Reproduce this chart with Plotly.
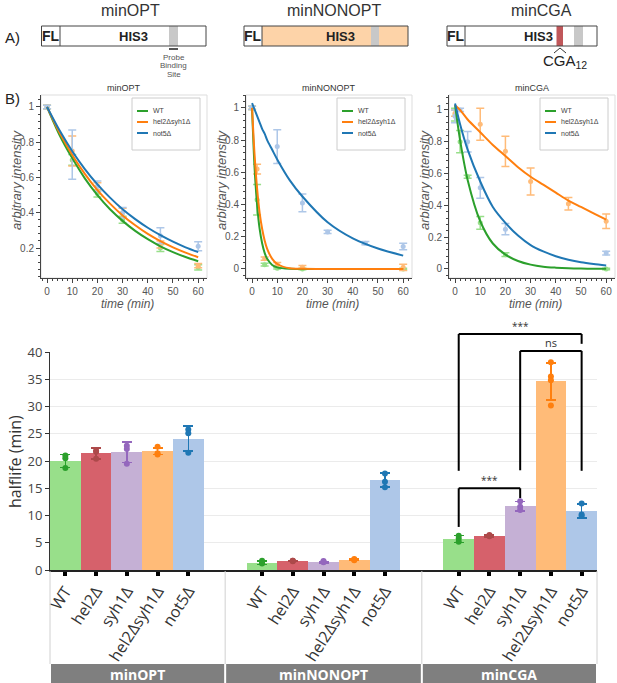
import plotly.graph_objects as go

W, H = 617, 683

# ---- panel B: decay time courses (arbitrary intensity) ----------------------
line_strains = ['WT', 'hel2\u0394syh1\u0394', 'not5\u0394']

# minOPT
opt_t = [0, 10, 20, 30, 45, 60]
opt_wt = [1.0, 0.70, 0.51, 0.36, 0.20, 0.09]
opt_wt_err = [0.01, 0.03, 0.02, 0.02, 0.02, 0.015]
opt_hs = [1.0, 0.75, 0.55, 0.40, 0.22, 0.10]
opt_hs_err = [0.01, 0.085, 0.02, 0.025, 0.02, 0.012]
opt_n5 = [1.0, 0.73, 0.55, 0.40, 0.27, 0.21]
opt_n5_err = [0.01, 0.14, 0.03, 0.03, 0.045, 0.025]
opt_fit_t = [0, 5, 10, 15, 20, 25, 30, 35, 40, 45, 50, 55, 60]
opt_fit_wt = [1.0, 0.84, 0.71, 0.595, 0.50, 0.42, 0.354, 0.297, 0.25, 0.21, 0.177, 0.149, 0.125]
opt_fit_hs = [1.0, 0.853, 0.728, 0.621, 0.529, 0.452, 0.385, 0.329, 0.28, 0.239, 0.204, 0.174, 0.148]
opt_fit_n5 = [1.0, 0.866, 0.749, 0.648, 0.561, 0.486, 0.42, 0.364, 0.315, 0.273, 0.236, 0.204, 0.177]

# minNONOPT
non_t = [0, 2, 5, 10, 20, 60]
non_wt = [1.0, 0.43, 0.027, 0.005, 0.0, 0.0]
non_wt_err = [0.01, 0.095, 0.008, 0.005, 0.005, 0.005]
non_hs = [1.0, 0.62, 0.064, 0.03, 0.01, 0.01]
non_hs_err = [0.01, 0.03, 0.01, 0.01, 0.012, 0.02]
non_n5_t = [0, 10, 20, 30, 45, 60]
non_n5 = [1.0, 0.76, 0.41, 0.23, 0.16, 0.14]
non_n5_err = [0.01, 0.105, 0.055, 0.01, 0.01, 0.02]
non_fit_t = [0, 1, 2, 3, 4, 5, 6, 8, 10, 15, 20, 30, 40, 50, 60]
non_fit_wt = [1.0, 0.63, 0.40, 0.25, 0.16, 0.10, 0.063, 0.025, 0.01, 0.001, 0, 0, 0, 0, 0]
non_fit_hs = [1.0, 0.71, 0.50, 0.35, 0.25, 0.177, 0.125, 0.063, 0.031, 0.004, 0.001, 0, 0, 0, 0]
non_fit_n5 = [1.03, 0.99, 0.95, 0.91, 0.87, 0.84, 0.80, 0.74, 0.68, 0.55, 0.45, 0.29, 0.19, 0.127, 0.083]

# minCGA
cga_t = [0, 2, 5, 10, 20, 60]
cga_wt = [0.97, 0.80, 0.58, 0.29, 0.09, 0.0]
cga_wt_err = [0.04, 0.07, 0.01, 0.04, 0.012, 0.005]
cga_hs_t = [0, 10, 20, 30, 45, 60]
cga_hs = [0.98, 0.91, 0.74, 0.55, 0.41, 0.30]
cga_hs_err = [0.02, 0.10, 0.095, 0.085, 0.04, 0.045]
cga_n5 = [0.96, 1.0, 0.80, 0.51, 0.25, 0.10]
cga_n5_err = [0.04, 0.01, 0.065, 0.065, 0.035, 0.012]
cga_fit_t = [0, 2, 5, 10, 15, 20, 25, 30, 35, 40, 45, 50, 55, 60]
cga_fit_wt = [1.03, 0.81, 0.56, 0.30, 0.16, 0.09, 0.05, 0.027, 0.014, 0.008, 0.004, 0.002, 0.001, 0.001]
cga_fit_hs = [1.03, 1.0, 0.94, 0.86, 0.78, 0.71, 0.64, 0.58, 0.53, 0.48, 0.43, 0.39, 0.35, 0.31]
cga_fit_n5 = [1.04, 0.91, 0.75, 0.55, 0.39, 0.29, 0.21, 0.15, 0.11, 0.08, 0.058, 0.042, 0.031, 0.022]

# ---- panel B: halflife bar chart --------------------------------------------
constructs = ['minOPT', 'minNONOPT', 'minCGA']
bar_strains = ['WT', 'hel2\u0394', 'syh1\u0394', 'hel2\u0394syh1\u0394', 'not5\u0394']
opt_mean = [20.0, 21.4, 21.6, 21.8, 24.1]
opt_sd = [1.2, 1.0, 1.85, 0.6, 2.3]
opt_reps = [[21.0, 20.5, 18.7], [21.9, 21.7, 20.4], [22.8, 22.2, 19.5],
            [22.6, 21.2, 21.4], [25.8, 25.1, 21.5]]
non_mean = [1.35, 1.65, 1.45, 1.9, 16.5]
non_sd = [0.3, 0.12, 0.15, 0.15, 1.3]
non_reps = [[1.7, 1.2, 1.3], [1.7, 1.6, 1.7], [1.65, 1.5, 1.4],
            [2.0, 1.8, 1.9], [17.7, 16.2, 15.2]]
cga_mean = [5.7, 6.25, 11.7, 34.6, 10.8]
cga_sd = [0.65, 0.15, 0.9, 3.4, 1.3]
cga_reps = [[6.3, 5.8, 5.2], [6.4, 6.3, 6.2], [12.6, 11.6, 11.0],
            [38.1, 35.5, 34.8, 30.2], [12.2, 10.2, 9.9]]
# significance brackets on minCGA: (from strain, to strain, label)
sig_pairs = [(0, 4, '***'), (2, 4, 'ns'), (0, 2, '***')]

# ---- style -------------------------------------------------------------------
line_dark = ['#2ca02c', '#ff7f0e', '#1f77b4']
line_light = ['#98df8a', '#ffbb78', '#aec7e8']
bar_light = ['#98df8a', '#d6616b', '#c5b0d5', '#ffbb78', '#aec7e8']
bar_dark = ['#2ca02c', '#ad494a', '#9467bd', '#ff7f0e', '#1f77b4']
GS = 6.4  # spacing between construct groups on the bar axis
SANS = 'Liberation Sans, Arial, sans-serif'
OPEN = 'Open Sans, sans-serif'


def px_x(px):
    return px / W


def px_y(py):
    return 1 - py / H


fig = go.Figure()


def note(x, y, text, size, color='#333', family=SANS, **kw):
    # paper-referenced text; anchors fixed so 'auto' does not snap to edges
    opts = dict(xanchor='center', yanchor='middle')
    opts.update(kw)
    fig.add_annotation(x=x, y=y, xref='paper', yref='paper', text=text, showarrow=False,
                       font=dict(family=family, size=size, color=color), **opts)


panels = [
    ('minOPT', [(opt_t, opt_wt, opt_wt_err), (opt_t, opt_hs, opt_hs_err), (opt_t, opt_n5, opt_n5_err)],
     opt_fit_t, [opt_fit_wt, opt_fit_hs, opt_fit_n5]),
    ('minNONOPT', [(non_t, non_wt, non_wt_err), (non_t, non_hs, non_hs_err), (non_n5_t, non_n5, non_n5_err)],
     non_fit_t, [non_fit_wt, non_fit_hs, non_fit_n5]),
    ('minCGA', [(cga_t, cga_wt, cga_wt_err), (cga_hs_t, cga_hs, cga_hs_err), (cga_t, cga_n5, cga_n5_err)],
     cga_fit_t, [cga_fit_wt, cga_fit_hs, cga_fit_n5]),
]
x_px = [(41, 207), (246, 412), (449, 615)]
y_ranges = [[0.03, 1.068], [-0.056, 1.08], [-0.057, 1.094]]

for k, (name, pts, fit_t, fits) in enumerate(panels):
    ax = '' if k == 0 else str(k + 1)
    for i in range(3):
        t, v, e = pts[i]
        fig.add_trace(go.Scatter(
            x=t, y=v, mode='markers', xaxis='x' + ax, yaxis='y' + ax,
            marker=dict(color=line_light[i], size=5),
            error_y=dict(type='data', array=e, color=line_light[i], thickness=1.5, width=4),
            showlegend=False, cliponaxis=False))
    for i in range(3):
        fig.add_trace(go.Scatter(
            x=fit_t, y=fits[i], mode='lines', xaxis='x' + ax, yaxis='y' + ax,
            line=dict(color=line_dark[i], width=2, shape='spline', smoothing=0.8),
            name=line_strains[i], showlegend=False))

    x0, x1 = x_px[k]
    axis_common = dict(showline=True, linecolor='#444', linewidth=1, ticks='outside',
                       ticklen=4, tickcolor='#444', showgrid=False, zeroline=False,
                       automargin=False, tickfont=dict(family=SANS, size=10, color='#555'))
    fig.update_layout({
        'xaxis' + ax: dict(domain=[px_x(x0), px_x(x1)], range=[-2.4, 63.5],
                           anchor='y' + ax, dtick=10, tick0=0,
                           minor=dict(ticks='outside', dtick=2, ticklen=2, tickcolor='#444'),
                           **axis_common),
        'yaxis' + ax: dict(domain=[px_y(278), px_y(95)], range=y_ranges[k],
                           anchor='x' + ax, dtick=0.2, tick0=0,
                           minor=dict(ticks='outside', dtick=0.04, ticklen=2, tickcolor='#444'),
                           **axis_common),
    })
    fig.add_shape(type='rect', xref='x' + ax + ' domain', yref='y' + ax + ' domain',
                  x0=0, x1=1, y0=0, y1=1, line=dict(color='#dddddd', width=1), layer='below')
    # compact legend box in the upper right corner of each time-course panel
    lx1 = x1 - 7
    lx0 = lx1 - 68
    fig.add_shape(type='rect', xref='paper', yref='paper', x0=px_x(lx0), x1=px_x(lx1),
                  y0=px_y(150), y1=px_y(98), line=dict(color='#cccccc', width=1),
                  fillcolor='white')
    for i in range(3):
        ly = 111 + 11 * i
        fig.add_shape(type='line', xref='paper', yref='paper', x0=px_x(lx0 + 5),
                      x1=px_x(lx0 + 16), y0=px_y(ly), y1=px_y(ly),
                      line=dict(color=line_dark[i], width=2))
        note(px_x(lx0 + 19), px_y(ly), line_strains[i], 7, '#444', xanchor='left')
    note(px_x((x0 + x1) / 2), px_y(88), name, 9)
    note(px_x((x0 + x1) / 2 + 3), px_y(304), '<i>time (min)</i>', 12, '#555')
    note(px_x(x0 - 25), px_y(180), '<i>arbitrary intensity</i>', 13, '#555', textangle=-90)

# ---- bar chart ---------------------------------------------------------------
means = [opt_mean, non_mean, cga_mean]
sds = [opt_sd, non_sd, cga_sd]
reps = [opt_reps, non_reps, cga_reps]
for i, s in enumerate(bar_strains):
    xs = [g * GS + i for g in range(3)]
    fig.add_trace(go.Bar(
        x=xs, y=[means[g][i] for g in range(3)], width=1, xaxis='x4', yaxis='y4',
        marker=dict(color=bar_light[i], line=dict(width=0)),
        error_y=dict(type='data', array=[sds[g][i] for g in range(3)],
                     color=bar_dark[i], thickness=1.5, width=5),
        showlegend=False))
    rx, ry = [], []
    for g in range(3):
        for v in reps[g][i]:
            rx.append(g * GS + i)
            ry.append(v)
    fig.add_trace(go.Scatter(x=rx, y=ry, mode='markers', xaxis='x4', yaxis='y4',
                             marker=dict(color=bar_dark[i], size=6), showlegend=False,
                             cliponaxis=False))

BX0, BX1 = 50, 597
BY0, BY1 = 570, 352
xr = [-0.5, 2 * GS + 4.5]
fig.update_layout(
    xaxis4=dict(domain=[px_x(BX0), px_x(BX1)], range=xr, anchor='y4',
                tickvals=[g * GS + i for g in range(3) for i in range(5)],
                ticktext=bar_strains * 3, tickangle=-57, automargin=False,
                ticks='outside', ticklen=4, tickwidth=4, tickcolor='black',
                showline=True, linecolor='#222', linewidth=1.5, showgrid=False,
                zeroline=False, tickfont=dict(family=OPEN, size=16, color='#333')),
    yaxis4=dict(domain=[px_y(BY0), px_y(BY1)], range=[0, 40], anchor='x4', dtick=5,
                showline=True, linecolor='#333', linewidth=1, ticks='outside', ticklen=4,
                tickcolor='#333', gridcolor='#ebebeb', zeroline=False, automargin=False,
                tickfont=dict(family=OPEN, size=13, color='#444')),
)
note(px_x(15), px_y(462), 'halflife (min)', 16, '#333', OPEN, textangle=-90)


def bx(x):
    return px_x(BX0 + (x - xr[0]) / (xr[1] - xr[0]) * (BX1 - BX0))


def by(v):
    return px_y(BY0 - v / 40 * (BY0 - BY1))


# significance brackets (heights in halflife units)
br_top = [43.3, 40.2, 15.0]
br_left = [18.2, 18.3, 7.9]
br_right = [41.5, 18.2, 13.2]
for (a, b, lab), top, lf, rt in zip(sig_pairs, br_top, br_left, br_right):
    xa, xb = bx(2 * GS + a), bx(2 * GS + b)
    for (p0, p1, q0, q1) in [(xa, xa, lf, top), (xa, xb, top, top), (xb, xb, top, rt)]:
        fig.add_shape(type='line', xref='paper', yref='paper', x0=p0, x1=p1,
                      y0=by(q0), y1=by(q1), line=dict(color='black', width=2))
    note((xa + xb) / 2, by(top), lab, 11 if lab == 'ns' else 10, '#333', OPEN,
         yanchor='bottom', yshift=-1)

# construct separators and label boxes
seps = [xr[0], (4 + GS) / 2, GS + (4 + GS) / 2, xr[1]]
for s in seps:
    fig.add_shape(type='line', xref='paper', yref='paper', x0=bx(s), x1=bx(s),
                  y0=px_y(BY0 + 1), y1=px_y(664), line=dict(color='#d0d0d0', width=1))
for g, c in enumerate(constructs):
    fig.add_shape(type='rect', xref='paper', yref='paper', x0=bx(seps[g]) + 1 / W,
                  x1=bx(seps[g + 1]) - 1 / W, y0=px_y(683), y1=px_y(664),
                  line=dict(width=0), fillcolor='#7f7f7f')
    note((bx(seps[g]) + bx(seps[g + 1])) / 2, px_y(674), '<b>' + c + '</b>', 14, 'white', OPEN)

# ---- panel A: construct schematics -------------------------------------------
schem = [
    # box x0, x1, FL divider, fill, gray probe x0, x1, CGA repeat
    (41.5, 206, 60, 'white', 169, 178, None),
    (244, 408, 262, '#fdd3a8', 371, 379, None),
    (447, 597, 465, 'white', 574, 583, (556.5, 563)),
]
SY0, SY1 = 26, 46
for k, (x0, x1, fl, fill, g0, g1, red) in enumerate(schem):
    fig.add_shape(type='rect', xref='paper', yref='paper', x0=px_x(fl), x1=px_x(x1),
                  y0=px_y(SY1), y1=px_y(SY0), fillcolor=fill, line=dict(width=0))
    fig.add_shape(type='rect', xref='paper', yref='paper', x0=px_x(g0), x1=px_x(g1),
                  y0=px_y(SY1), y1=px_y(SY0), fillcolor='#c8c8c8', line=dict(width=0))
    if red:
        fig.add_shape(type='rect', xref='paper', yref='paper', x0=px_x(red[0]), x1=px_x(red[1]),
                      y0=px_y(SY1), y1=px_y(SY0), fillcolor='#c0575a', line=dict(width=0))
    fig.add_shape(type='rect', xref='paper', yref='paper', x0=px_x(x0), x1=px_x(x1),
                  y0=px_y(SY1), y1=px_y(SY0), line=dict(color='#444', width=1))
    fig.add_shape(type='line', xref='paper', yref='paper', x0=px_x(fl), x1=px_x(fl),
                  y0=px_y(SY1), y1=px_y(SY0), line=dict(color='#444', width=1))
    note(px_x((x0 + fl) / 2), px_y(36), '<b>FL</b>', 14, '#222')
    note(px_x([133, 340, 538][k]), px_y(36), '<b>HIS3</b>', 13, '#222')
    note(px_x([130, 334, 541][k]), px_y(11), constructs[k], 16, '#333')

fig.add_shape(type='line', xref='paper', yref='paper', x0=px_x(169), x1=px_x(178),
              y0=px_y(49), y1=px_y(49), line=dict(color='#555', width=2))
for j, w in enumerate(['Probe', 'Binding', 'Site']):
    note(px_x(174), px_y(57 + 8.5 * j), w, 8, '#555')
fig.add_shape(type='path', xref='paper', yref='paper',
              path='M {} {} L {} {} L {} {}'.format(px_x(554), px_y(53), px_x(560), px_y(48),
                                                    px_x(566), px_y(53)),
              line=dict(color='#333', width=1))
note(px_x(565), px_y(62), 'CGA<sub>12</sub>', 15, '#222')

note(px_x(12), px_y(37), 'A)', 15, '#222')
note(px_x(12), px_y(99), 'B)', 15, '#222')

fig.update_layout(width=W, height=H,
                  margin=dict(l=0, r=0, t=0, b=0, pad=0, autoexpand=False),
                  paper_bgcolor='white', plot_bgcolor='white', bargap=0, showlegend=False)

# the page body has a default 8px margin; drop it so the figure sits at the corner
fig.write_html('out.html', config={'displayModeBar': False},
               post_script="document.body.style.margin = '0px';")
